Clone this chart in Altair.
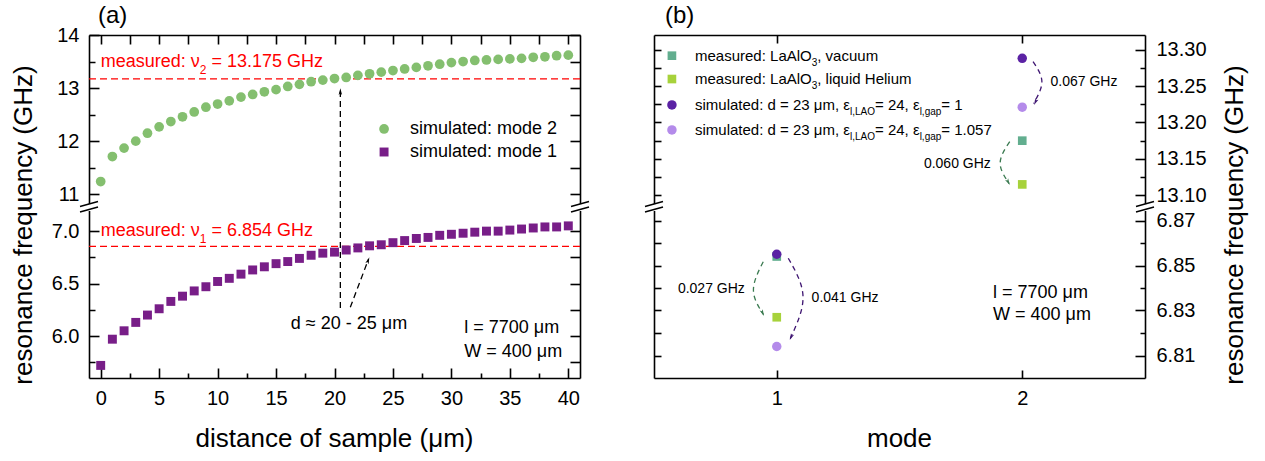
import altair as alt
import pandas as pd

FONT = "Liberation Sans"

# ---------------- panel (a): simulated resonance frequency vs. sample distance
distance_um = list(range(41))
sim_mode2_ghz = [11.24, 11.71, 11.87, 12.00, 12.15, 12.27, 12.37, 12.46, 12.55, 12.64,
                 12.70, 12.76, 12.83, 12.88, 12.93, 12.97, 13.03, 13.07, 13.12, 13.15,
                 13.18, 13.20, 13.24, 13.27, 13.30, 13.33, 13.36, 13.39, 13.42, 13.45,
                 13.48, 13.50, 13.52, 13.53, 13.54, 13.55, 13.56, 13.58, 13.59, 13.61, 13.62]
sim_mode1_ghz = [5.72, 5.97, 6.05, 6.13, 6.20, 6.26, 6.33, 6.38, 6.43, 6.47,
                 6.52, 6.55, 6.59, 6.63, 6.66, 6.69, 6.71, 6.74, 6.77, 6.79,
                 6.80, 6.82, 6.84, 6.86, 6.87, 6.89, 6.91, 6.93, 6.94, 6.96,
                 6.97, 6.98, 6.99, 7.00, 7.00, 7.01, 7.02, 7.03, 7.04, 7.04, 7.05]
measured_nu2_ghz = 13.175
measured_nu1_ghz = 6.854

# ---------------- panel (b): measured and simulated frequency per mode
mode_number = [1, 2]
meas_vacuum_ghz = [6.854, 13.175]
meas_helium_ghz = [6.827, 13.115]
sim_gap_1_ghz = [6.855, 13.288]
sim_gap_1057_ghz = [6.814, 13.221]
eps_gap_labels = ["1", "1.057"]

GREEN_A = "#84BF6F"
PURPLE_A = "#781E88"
TEAL = "#62AE8F"
LIME = "#A7D23B"
DARK_PURPLE = "#5B22A4"
LIGHT_PURPLE = "#B48BEA"
ARROW_PURPLE = "#3F1672"
ARROW_GREEN = "#3A7A50"
RED = "#FF0000"

W, H_TOP, H_BOT = 491, 172, 171
ANCHOR = pd.DataFrame({"k": [0]})
ARROW = "M0,0L0.5,1.9L0,1.45L-0.5,1.9Z"

XA = alt.Scale(domain=[-1, 41], nice=False, zero=False)
YA_TOP = alt.Scale(domain=[10.76, 14.0], nice=False, zero=False)
YA_BOT = alt.Scale(domain=[5.6, 7.23], nice=False, zero=False)
XB = alt.Scale(domain=[0.5, 2.5], nice=False, zero=False)
YB_TOP = alt.Scale(domain=[13.084, 13.32], nice=False, zero=False)
YB_BOT = alt.Scale(domain=[6.80, 6.876], nice=False, zero=False)

# Arial / Liberation Sans advance widths (1/1000 em) for composing sub-scripted text
ARIAL = {" ": 278, ",": 278, ".": 278, ":": 278, "=": 584, "-": 333, "(": 333, ")": 333,
         "\u2248": 584, "\u03bc": 576, "\u03b5": 446, "\u03bd": 500,
         "A": 667, "G": 778, "H": 722, "L": 556, "O": 778, "W": 944,
         "a": 556, "c": 500, "d": 556, "e": 556, "f": 278, "g": 556, "h": 556, "i": 222,
         "l": 222, "m": 833, "n": 556, "o": 556, "p": 556, "q": 556, "r": 333, "s": 500,
         "t": 278, "u": 556, "v": 500, "y": 500, "z": 500}
for _d in "0123456789":
    ARIAL[_d] = 556


def text_width(s, size):
    return sum(ARIAL.get(ch, 556) for ch in s) * size / 1000.0


def frame_axis(orient, values=None, fmt=None, pad=10):
    kw = dict(orient=orient, title=None, grid=False, ticks=False, tickSize=0,
              domain=True, domainColor="black", domainWidth=1.6)
    if values is None:
        kw["labels"] = False
    else:
        kw.update(values=values, format=fmt, labels=True, labelFont=FONT, labelFontSize=20,
                  labelColor="black", labelPadding=pad, labelFlush=False, labelOverlap=False)
    return alt.Axis(**kw)


def tick_axis(orient, values, long_len, short_len=None, major_test=None):
    # ticks drawn inward: the axis is shifted inside by the tick length
    kw = dict(orient=orient, values=values, title=None, grid=False, domain=False, labels=False,
              ticks=True, tickSize=long_len, tickWidth=1.6, tickColor="black", offset=-long_len)
    if short_len is not None:
        kw["tickDash"] = {"condition": {"test": major_test, "value": []},
                          "value": [0, long_len - short_len, short_len, 60]}
    return alt.Axis(**kw)


def axis_layers(df, xf, yf, xs, ys, x_frame, x_ticks, yl_frame, yl_ticks, yr_frame, yr_ticks):
    base = alt.Chart(df).mark_point(opacity=0)
    return [
        base.encode(x=alt.X(xf, type="quantitative", scale=xs, axis=x_frame),
                    y=alt.Y(yf, type="quantitative", scale=ys, axis=yl_frame)),
        base.encode(x=alt.X(xf, type="quantitative", scale=xs, axis=x_ticks),
                    y=alt.Y(yf, type="quantitative", scale=ys, axis=yl_ticks)),
        base.encode(x=alt.X(xf, type="quantitative", scale=xs, axis=None),
                    y=alt.Y(yf, type="quantitative", scale=ys, axis=yr_frame)),
        base.encode(x=alt.X(xf, type="quantitative", scale=xs, axis=None),
                    y=alt.Y(yf, type="quantitative", scale=ys, axis=yr_ticks)),
    ]


def pos(x, y, xs, ys):
    return dict(x=alt.X(datum=x, scale=xs, axis=None), y=alt.Y(datum=y, scale=ys, axis=None))


def label(text, x, y, xs, ys, size, align="left", color="black"):
    return alt.Chart(ANCHOR).mark_text(text=text, align=align, baseline="middle", font=FONT,
                                       fontSize=size, color=color).encode(**pos(x, y, xs, ys))


def rich_text(parts, x, y, xs, ys, size, sub_size, sub_dy, color="black"):
    out, dx = [], 0.0
    for s, sub in parts:
        fs = sub_size if sub else size
        lead = len(s) - len(s.lstrip(" "))
        dx += text_width(" " * lead, fs)
        body = s.strip(" ")
        out.append(alt.Chart(ANCHOR).mark_text(
            text=body, align="left", baseline="middle", dx=dx, dy=sub_dy if sub else 0,
            font=FONT, fontSize=fs, color=color).encode(**pos(x, y, xs, ys)))
        dx += text_width(body, fs)
    return out


def pixel_text(text, px, py, size, angle=0, align="center"):
    return alt.Chart(ANCHOR).mark_text(text=text, align=align, baseline="middle", font=FONT,
                                       fontSize=size, angle=angle, color="black").encode(
        x=alt.value(px), y=alt.value(py))


def head(x, y, xs, ys, angle, size, color):
    return alt.Chart(ANCHOR).mark_point(shape=ARROW, filled=True, size=size, angle=angle,
                                        color=color, opacity=1, strokeWidth=0).encode(**pos(x, y, xs, ys))


def seg_rule(x1, y1, x2, y2, xs, ys, color="black", dash=(6, 4), width=1.3):
    return alt.Chart(ANCHOR).mark_rule(color=color, strokeDash=list(dash), strokeWidth=width).encode(
        x=alt.X(datum=x1, scale=xs, axis=None), y=alt.Y(datum=y1, scale=ys, axis=None),
        x2=alt.X2(datum=x2), y2=alt.Y2(datum=y2))


def hline(y, ys):
    return alt.Chart(ANCHOR).mark_rule(color=RED, strokeDash=[7, 4], strokeWidth=1.2).encode(
        y=alt.Y(datum=y, scale=ys, axis=None))


def arc(points, xs, ys, color):
    df = pd.DataFrame({"x": [p[0] for p in points], "y": [p[1] for p in points],
                       "i": list(range(len(points)))})
    return alt.Chart(df).mark_line(interpolate="natural", strokeDash=[5, 4], strokeWidth=1.3,
                                   color=color).encode(
        x=alt.X("x:Q", scale=xs, axis=None), y=alt.Y("y:Q", scale=ys, axis=None), order="i:Q")


def break_marks(px):
    cut = alt.Chart(ANCHOR).mark_rule(color="white", strokeWidth=5).encode(
        x=alt.value(px), y=alt.value(-3), y2=alt.value(4))
    s1 = alt.Chart(ANCHOR).mark_rule(color="black", strokeWidth=1.4).encode(
        x=alt.value(px - 9), y=alt.value(-0.5), x2=alt.value(px + 9), y2=alt.value(-5.5))
    s2 = alt.Chart(ANCHOR).mark_rule(color="black", strokeWidth=1.4).encode(
        x=alt.value(px - 9), y=alt.value(5), x2=alt.value(px + 9), y2=alt.value(0))
    return [cut, s1, s2]


def segment(layers, height):
    return alt.layer(*layers).resolve_axis(x="independent", y="independent").properties(
        width=W, height=height, view=alt.ViewBackground(strokeWidth=0, strokeOpacity=0))


TEST_INT = "abs(datum.value - round(datum.value)) < 1e-6"
TEST_HALF = "abs(datum.value * 2 - round(datum.value * 2)) < 1e-6"
TEST_FIVE = "abs(datum.value / 5 - round(datum.value / 5)) < 1e-6"
TEST_005 = "abs(datum.value * 20 - round(datum.value * 20)) < 1e-6"
TEST_ODD = "round(datum.value * 100) % 2 == 1"

x_ticks_a = [round(2.5 * k, 2) for k in range(17)]

# ================= panel (a) =================
df_a = pd.DataFrame({"d": distance_um, "m2": sim_mode2_ghz, "m1": sim_mode1_ghz})

ya_top_ticks = [round(11 + 0.5 * k, 2) for k in range(7)]
a_top_layers = [hline(measured_nu2_ghz, YA_TOP)]
a_top_layers += axis_layers(
    df_a, "d", "m2", XA, YA_TOP,
    frame_axis("top"), tick_axis("top", x_ticks_a, 9),
    frame_axis("left", [11, 12, 13, 14], "d"), tick_axis("left", ya_top_ticks, 10, 6, TEST_INT),
    frame_axis("right"), tick_axis("right", ya_top_ticks, 10))
a_top_layers += [
    alt.Chart(df_a).mark_circle(size=95, color=GREEN_A, opacity=1).encode(
        x=alt.X("d:Q", scale=XA, axis=None), y=alt.Y("m2:Q", scale=YA_TOP, axis=None)),
    seg_rule(20.5, 10.76, 20.5, 12.93, XA, YA_TOP),
    head(20.5, 12.996, XA, YA_TOP, 0, 49, "black"),
    alt.Chart(ANCHOR).mark_circle(size=95, color=GREEN_A, opacity=1).encode(**pos(24.24, 12.23, XA, YA_TOP)),
    alt.Chart(ANCHOR).mark_square(size=80, color=PURPLE_A, opacity=1).encode(**pos(24.24, 11.796, XA, YA_TOP)),
    label("simulated: mode 2", 26.46, 12.23, XA, YA_TOP, 18),
    label("simulated: mode 1", 26.46, 11.796, XA, YA_TOP, 18),
    pixel_text("(a)", 9, -19, 24, align="left"),
    pixel_text("resonance frequency (GHz)", -65, 190, 26, angle=270),
]
a_top_layers += rich_text([("measured: \u03bd", False), ("2", True),
                           (f" = {measured_nu2_ghz:.3f} GHz", False)],
                          0, 13.49, XA, YA_TOP, 18, 12, 8, RED)

ya_bot_ticks = [round(5.75 + 0.25 * k, 2) for k in range(6)]
a_bot_layers = [hline(measured_nu1_ghz, YA_BOT)]
a_bot_layers += axis_layers(
    df_a, "d", "m1", XA, YA_BOT,
    frame_axis("bottom", list(range(0, 41, 5)), "d", pad=10),
    tick_axis("bottom", x_ticks_a, 10, 5, TEST_FIVE),
    frame_axis("left", [6.0, 6.5, 7.0], ".1f"), tick_axis("left", ya_bot_ticks, 10, 6, TEST_HALF),
    frame_axis("right"), tick_axis("right", ya_bot_ticks, 10))
a_bot_layers += [
    alt.Chart(df_a).mark_square(size=80, color=PURPLE_A, opacity=1).encode(
        x=alt.X("d:Q", scale=XA, axis=None), y=alt.Y("m1:Q", scale=YA_BOT, axis=None)),
    seg_rule(20.5, 6.267, 20.5, 7.23, XA, YA_BOT),
    seg_rule(21.35, 6.274, 22.9, 6.73, XA, YA_BOT),
    head(22.98, 6.75, XA, YA_BOT, 21, 49, "black"),
    label("d \u2248 20 - 25 \u03bcm", 21.24, 6.115, XA, YA_BOT, 18, align="center"),
    label("l = 7700 \u03bcm", 31.1, 6.077, XA, YA_BOT, 18),
    label("W = 400 \u03bcm", 31.1, 5.85, XA, YA_BOT, 18),
    pixel_text("distance of sample (\u03bcm)", W / 2, 232, 26),
]
a_bot_layers += rich_text([("measured: \u03bd", False), ("1", True),
                           (f" = {measured_nu1_ghz:.3f} GHz", False)],
                          0, 7.0, XA, YA_BOT, 18, 12, 8, RED)
a_bot_layers += break_marks(0) + break_marks(W)

panel_a = alt.vconcat(segment(a_top_layers, H_TOP), segment(a_bot_layers, H_BOT),
                      spacing=0, bounds="flush").resolve_scale(x="independent", y="independent")

# ================= panel (b) =================
def mode_df(values, idx):
    return pd.DataFrame({"mode": [mode_number[idx]], "f": [values[idx]]})


def mode_points(values, idx, ys, kind, color):
    base = alt.Chart(mode_df(values, idx))
    mark = (base.mark_square(size=75, color=color, opacity=1) if kind == "square"
            else base.mark_circle(size=90, color=color, opacity=1))
    return mark.encode(x=alt.X("mode:Q", scale=XB, axis=None), y=alt.Y("f:Q", scale=ys, axis=None))


def shift(a, b, idx):
    return f"{a[idx] - b[idx]:.3f} GHz"


all_b = pd.DataFrame({"mode": mode_number * 4,
                      "f": meas_vacuum_ghz + meas_helium_ghz + sim_gap_1_ghz + sim_gap_1057_ghz})
df_b_top = all_b[all_b["f"] > 10]
df_b_bot = all_b[all_b["f"] < 10]

yb_top_major = [round(13.10 + 0.05 * k, 3) for k in range(5)]
yb_top_ticks = [round(13.10 + 0.025 * k, 3) for k in range(9)]
b_top_layers = axis_layers(
    df_b_top, "mode", "f", XB, YB_TOP,
    frame_axis("top"), tick_axis("top", mode_number, 8),
    frame_axis("left"), tick_axis("left", yb_top_ticks, 7),
    frame_axis("right", yb_top_major, ".2f", pad=11), tick_axis("right", yb_top_ticks, 10, 5, TEST_005))
b_top_layers += [
    arc([(2.044, 13.2834), (2.08, 13.2559), (2.046, 13.226)], XB, YB_TOP, ARROW_PURPLE),
    head(2.048, 13.224, XB, YB_TOP, 205, 49, ARROW_PURPLE),
    arc([(1.949, 13.1736), (1.91, 13.1444), (1.947, 13.116)], XB, YB_TOP, ARROW_GREEN),
    head(1.949, 13.1142, XB, YB_TOP, 152, 49, ARROW_GREEN),
    mode_points(meas_vacuum_ghz, 1, YB_TOP, "square", TEAL),
    mode_points(meas_helium_ghz, 1, YB_TOP, "square", LIME),
    mode_points(sim_gap_1_ghz, 1, YB_TOP, "circle", DARK_PURPLE),
    mode_points(sim_gap_1057_ghz, 1, YB_TOP, "circle", LIGHT_PURPLE),
    label(shift(sim_gap_1_ghz, sim_gap_1057_ghz, 1), 2.115, 13.2555, XB, YB_TOP, 14),
    label(shift(meas_vacuum_ghz, meas_helium_ghz, 1), 1.872, 13.143, XB, YB_TOP, 14, align="right"),
    pixel_text("(b)", 11, -19, 24, align="left"),
    pixel_text("resonance frequency (GHz)", 581, 190, 26, angle=270),
]

legend_rows = [
    ("square", TEAL, 13.2916, [("measured: LaAlO", False), ("3", True), (", vacuum", False)]),
    ("square", LIME, 13.2596, [("measured: LaAlO", False), ("3", True), (", liquid Helium", False)]),
    ("circle", DARK_PURPLE, 13.224, [("simulated: d = 23 \u03bcm, \u03b5", False), ("l,LAO", True),
                                      ("= 24, \u03b5", False), ("l,gap", True),
                                      ("= " + eps_gap_labels[0], False)]),
    ("circle", LIGHT_PURPLE, 13.1897, [("simulated: d = 23 \u03bcm, \u03b5", False), ("l,LAO", True),
                                        ("= 24, \u03b5", False), ("l,gap", True),
                                        ("= " + eps_gap_labels[1], False)]),
]
for kind, color, yrow, parts in legend_rows:
    base = alt.Chart(ANCHOR)
    mk = (base.mark_square(size=75, color=color, opacity=1) if kind == "square"
          else base.mark_circle(size=90, color=color, opacity=1))
    b_top_layers.append(mk.encode(**pos(0.573, yrow, XB, YB_TOP)))
    b_top_layers += rich_text(parts, 0.667, yrow, XB, YB_TOP, 15, 10, 7)

yb_bot_major = [6.81, 6.83, 6.85, 6.87]
yb_bot_ticks = [round(6.81 + 0.01 * k, 3) for k in range(7)]
b_bot_layers = axis_layers(
    df_b_bot, "mode", "f", XB, YB_BOT,
    frame_axis("bottom", mode_number, "d", pad=10), tick_axis("bottom", mode_number, 8),
    frame_axis("left"), tick_axis("left", yb_bot_ticks, 7),
    frame_axis("right", yb_bot_major, ".2f", pad=11), tick_axis("right", yb_bot_ticks, 10, 5, TEST_ODD))
b_bot_layers += [
    arc([(0.945, 6.8517), (0.905, 6.8391), (0.946, 6.8282)], XB, YB_BOT, ARROW_GREEN),
    head(0.948, 6.8276, XB, YB_BOT, 155, 49, ARROW_GREEN),
    arc([(1.047, 6.8532), (1.107, 6.8361), (1.055, 6.8175)], XB, YB_BOT, ARROW_PURPLE),
    head(1.053, 6.8169, XB, YB_BOT, 205, 49, ARROW_PURPLE),
    mode_points(meas_vacuum_ghz, 0, YB_BOT, "square", TEAL),
    mode_points(meas_helium_ghz, 0, YB_BOT, "square", LIME),
    mode_points(sim_gap_1_ghz, 0, YB_BOT, "circle", DARK_PURPLE),
    mode_points(sim_gap_1057_ghz, 0, YB_BOT, "circle", LIGHT_PURPLE),
    label(shift(meas_vacuum_ghz, meas_helium_ghz, 0), 0.870, 6.8394, XB, YB_BOT, 14, align="right"),
    label(shift(sim_gap_1_ghz, sim_gap_1057_ghz, 0), 1.142, 6.8354, XB, YB_BOT, 14),
    label("l = 7700 \u03bcm", 1.881, 6.8379, XB, YB_BOT, 18),
    label("W = 400 \u03bcm", 1.881, 6.828, XB, YB_BOT, 18),
    pixel_text("mode", W / 2, 232, 26),
]
b_bot_layers += break_marks(0) + break_marks(W)

panel_b = alt.vconcat(segment(b_top_layers, H_TOP), segment(b_bot_layers, H_BOT),
                      spacing=0, bounds="flush").resolve_scale(x="independent", y="independent")

# configure() builds the config object, so it comes before configure_view()
chart = alt.hconcat(panel_a, panel_b, spacing=54).resolve_scale(
    x="independent", y="independent"
).properties(
    padding={"left": 10, "top": 4, "right": 5, "bottom": 5}
).configure(
    font=FONT, background="white"
).configure_view(
    strokeWidth=0, strokeOpacity=0
)

chart.save("out.html", embed_options={"renderer": "svg", "actions": False})
